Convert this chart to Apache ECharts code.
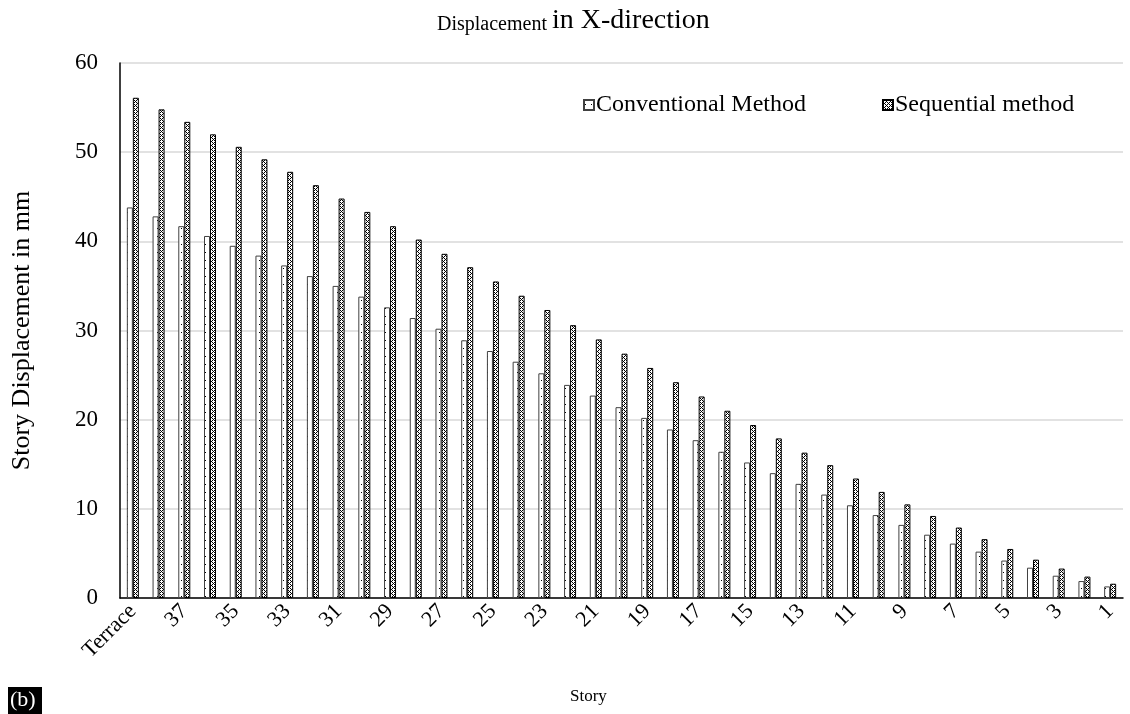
<!DOCTYPE html>
<html>
<head>
<meta charset="utf-8">
<title>Displacement in X-direction</title>
<script src="https://cdn.jsdelivr.net/npm/echarts@6/dist/echarts.min.js"></script>
<style>
  html, body { margin: 0; padding: 0; background: #ffffff; }
  #chart { width: 1130px; height: 714px; }
</style>
</head>
<body>
<div id="chart"></div>
<script>
// Stories from the roof down to the first floor
const stories = ['Terrace', '38', '37', '36', '35', '34', '33', '32', '31', '30',
  '29', '28', '27', '26', '25', '24', '23', '22', '21', '20',
  '19', '18', '17', '16', '15', '14', '13', '12', '11', '10',
  '9', '8', '7', '6', '5', '4', '3', '2', '1'];

// Story displacement (mm), conventional analysis
const conventional = [43.8, 42.8, 41.7, 40.6, 39.5, 38.4, 37.3, 36.1, 35.0, 33.8,
  32.6, 31.4, 30.2, 28.9, 27.7, 26.5, 25.2, 23.9, 22.7, 21.4,
  20.2, 18.9, 17.7, 16.4, 15.2, 14.0, 12.8, 11.6, 10.4, 9.3,
  8.2, 7.1, 6.1, 5.2, 4.2, 3.4, 2.5, 1.9, 1.3];

// Story displacement (mm), sequential construction analysis
const sequential = [56.1, 54.8, 53.4, 52.0, 50.6, 49.2, 47.8, 46.3, 44.8, 43.3,
  41.7, 40.2, 38.6, 37.1, 35.5, 33.9, 32.3, 30.6, 29.0, 27.4,
  25.8, 24.2, 22.6, 21.0, 19.4, 17.9, 16.3, 14.9, 13.4, 11.9,
  10.5, 9.2, 7.9, 6.6, 5.5, 4.3, 3.3, 2.4, 1.6];

const yTicks = { min: 0, max: 60, interval: 10 };

const serif = '"Liberation Serif", "DejaVu Serif", serif';

// Fill tiles: sparse dots on white, and a lattice of small rings
function dottedTile() {
  const c = document.createElement('canvas');
  c.width = 6; c.height = 8;
  const g = c.getContext('2d');
  g.fillStyle = '#ffffff';
  g.fillRect(0, 0, 6, 8);
  g.fillStyle = '#000000';
  g.fillRect(1, 4, 1, 1);
  return c;
}
function latticeTile() {
  const rows = ['BWBW', 'WWWB', 'BWBW', 'WBWW'];
  const c = document.createElement('canvas');
  c.width = 4; c.height = 4;
  const g = c.getContext('2d');
  rows.forEach(function (row, y) {
    for (let x = 0; x < row.length; x++) {
      g.fillStyle = row[x] === 'B' ? '#000000' : '#ffffff';
      g.fillRect(x, y, 1, 1);
    }
  });
  return c;
}

const chart = echarts.init(document.getElementById('chart'), null, { renderer: 'canvas' });

chart.setOption({
  backgroundColor: '#ffffff',
  animation: false,
  title: {
    text: '{a|Displacement} {b|in X-direction}',
    left: 432,
    top: 2,
    textStyle: {
      fontWeight: 'normal',
      rich: {
        a: { fontFamily: serif, fontSize: 20, fontWeight: 'normal', color: '#000000', verticalAlign: 'bottom' },
        b: { fontFamily: serif, fontSize: 28, fontWeight: 'normal', color: '#000000', verticalAlign: 'bottom' }
      }
    }
  },
  legend: {
    left: 578,
    top: 88,
    itemWidth: 10,
    itemHeight: 10,
    itemGap: 76,
    icon: 'rect',
    textStyle: { fontFamily: serif, fontSize: 24, color: '#000000', padding: [0, 0, 0, -3] },
    data: ['Conventional Method', 'Sequential method']
  },
  grid: { left: 120, right: 7, top: 63, bottom: 116, containLabel: false },
  xAxis: {
    type: 'category',
    data: stories,
    axisLine: { show: true, lineStyle: { color: '#000000', width: 1.5 } },
    axisTick: { show: false },
    axisLabel: {
      interval: 1,
      rotate: 45,
      margin: 10,
      fontFamily: serif,
      fontSize: 22,
      color: '#000000'
    }
  },
  yAxis: {
    type: 'value',
    min: yTicks.min,
    max: yTicks.max,
    interval: yTicks.interval,
    name: 'Story Displacement in mm',
    nameLocation: 'middle',
    nameGap: 85,
    nameRotate: 90,
    nameTextStyle: { fontFamily: serif, fontSize: 26, color: '#000000' },
    axisLine: { show: true, lineStyle: { color: '#000000', width: 1.5 } },
    axisTick: { show: false },
    axisLabel: { fontFamily: serif, fontSize: 23, color: '#000000', margin: 22 },
    splitLine: { show: true, lineStyle: { color: '#d9d9d9', width: 1.5 } }
  },
  series: [
    {
      name: 'Conventional Method',
      type: 'bar',
      data: conventional,
      barWidth: 6,
      barGap: '0%',
      itemStyle: {
        color: { image: dottedTile(), repeat: 'repeat' },
        borderColor: '#404040',
        borderWidth: 1
      }
    },
    {
      name: 'Sequential method',
      type: 'bar',
      data: sequential,
      barWidth: 6,
      itemStyle: {
        color: { image: latticeTile(), repeat: 'repeat' },
        borderColor: '#000000',
        borderWidth: 1
      }
    }
  ],
  graphic: [
    {
      type: 'text',
      left: 570,
      top: 688,
      style: { text: 'Story', fontFamily: serif, fontSize: 17, fill: '#000000' }
    },
    {
      type: 'rect',
      left: 8,
      top: 687,
      shape: { width: 34, height: 27 },
      style: { fill: '#000000' }
    },
    {
      type: 'text',
      left: 10,
      top: 689,
      style: { text: '(b)', fontFamily: serif, fontSize: 22, fill: '#ffffff' }
    }
  ]
});
</script>
</body>
</html>
